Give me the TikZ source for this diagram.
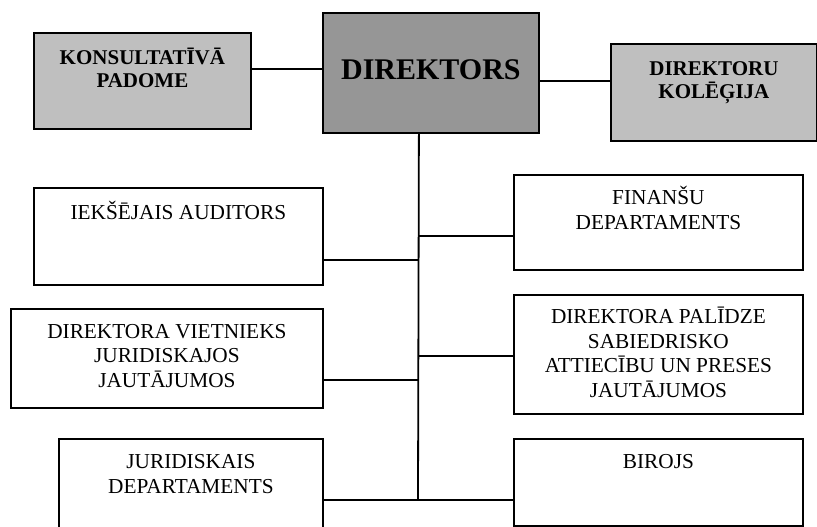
\documentclass[tikz,border=0pt]{standalone}
\usepackage{fontspec}
\setmainfont{Liberation Serif}
\begin{document}
\begin{tikzpicture}[x=1pt,y=-1pt,
		box/.style={draw,line width=1.8pt,rectangle,anchor=north west,inner sep=0pt},
		txt/.style={anchor=base,align=center,inner sep=0pt,font=\fontsize{21.3}{24.5}\selectfont},
		btxt/.style={anchor=base,align=center,inner sep=0pt,font=\fontsize{21}{23}\selectfont\bfseries},
		link/.style={line width=1.5pt}]
		\useasboundingbox (0,0) rectangle (817,527);
		
		% top row
		\node [box,fill=black!25,minimum width=217pt,minimum height=96pt] (padome) at (33,32) {};
		\node [box,fill=black!41,minimum width=216pt,minimum height=120pt] (direktors) at (322,12) {};
		\node [box,fill=black!25,minimum width=206pt,minimum height=97pt] (kolegija) at (610,43) {};
		% base anchor = last line
		\node [btxt] (t-padome) at ([yshift=-56pt]padome.north) {KONSULTATĪVĀ\\PADOME};
		\node [anchor=base,inner sep=0pt,font=\fontsize{30}{34}\selectfont\bfseries] (t-direktors) at ([yshift=-68pt]direktors.north) {DIREKTORS};
		\node [btxt] (t-kolegija) at ([yshift=-56pt]kolegija.north) {DIREKTORU\\KOLĒĢIJA};
		
		% left column
		\node [box,minimum width=289pt,minimum height=97pt] (auditors) at (33,187) {};
		\node [box,minimum width=312pt,minimum height=99pt] (vietnieks) at (10,308) {};
		\node [box,minimum width=264pt,minimum height=100pt] (juridiskais) at (58,438) {};
		\node [txt] (t-auditors) at ([yshift=-32pt]auditors.north) {IEKŠĒJAIS AUDITORS};
		\node [txt] (t-vietnieks) at ([yshift=-79pt]vietnieks.north) {DIREKTORA VIETNIEKS\\JURIDISKAJOS\\JAUTĀJUMOS};
		\node [txt] (t-juridiskais) at ([yshift=-55pt]juridiskais.north) {JURIDISKAIS\\DEPARTAMENTS};
		
		% right column
		\node [box,minimum width=289pt,minimum height=95pt] (finansu) at (513,174) {};
		\node [box,minimum width=289pt,minimum height=119pt] (palidze) at (513,294) {};
		\node [box,minimum width=289pt,minimum height=87pt] (birojs) at (513,438) {};
		\node [txt] (t-finansu) at ([yshift=-55pt]finansu.north) {FINANŠU\\DEPARTAMENTS};
		\node [txt] (t-palidze) at ([yshift=-103pt]palidze.north) {DIREKTORA PALĪDZE\\SABIEDRISKO\\ATTIECĪBU UN PRESES\\JAUTĀJUMOS};
		\node [txt] (t-birojs) at ([yshift=-30pt]birojs.north) {BIROJS};
		
		% connectors
		\coordinate (trunk) at ([xshift=-12pt]direktors.south);
		\coordinate (j-auditors) at (418,260);
		\coordinate (j-vietnieks) at (418,380);
		\coordinate (j-finansu) at (418,236);
		\coordinate (j-palidze) at (418,356);
		\coordinate (j-bottom) at (418,500);
		
		\draw [link] ([yshift=12pt]padome.east) -- ([yshift=12pt]padome.east -| direktors.west);
		\draw [link] ([yshift=-8pt]direktors.east) -- ([yshift=-8pt]direktors.east -| kolegija.west);
		\draw [line width=1.8pt] (trunk) -- (j-bottom);
		\draw [link] (auditors.east |- j-auditors) -- (j-auditors);
		\draw [link] (vietnieks.east |- j-vietnieks) -- (j-vietnieks);
		\draw [link] (j-finansu) -- (finansu.west |- j-finansu);
		\draw [link] (j-palidze) -- (palidze.west |- j-palidze);
		\draw [link] (juridiskais.east |- j-bottom) -- (birojs.west |- j-bottom);
\end{tikzpicture}
\end{document}
